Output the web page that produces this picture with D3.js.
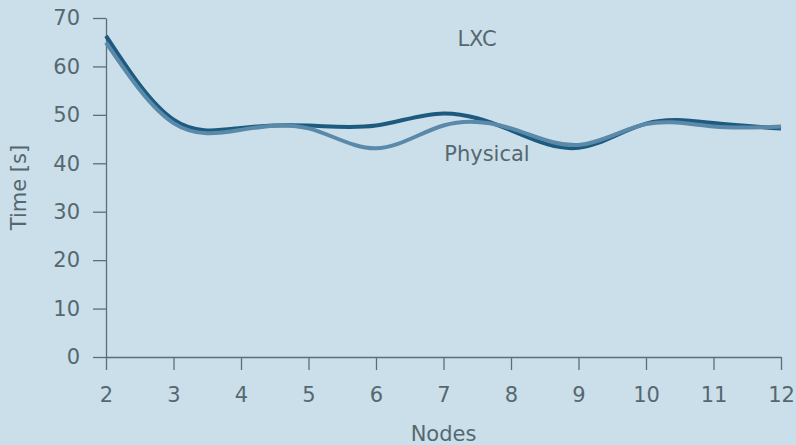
<!DOCTYPE html>
<html>
<head>
<meta charset="utf-8">
<script src="https://cdn.jsdelivr.net/npm/d3@7"></script>
<style>
  body { margin: 0; background: #cbdfea; }
  svg { display: block; font-family: "DejaVu Sans", sans-serif; }
  .axis path, .axis line { stroke: #5d6e75; stroke-width: 1.3; }
  .axis text { fill: #56686f; font-size: 21px; font-family: "DejaVu Sans", sans-serif; }
</style>
</head>
<body>
<svg id="chart" width="796" height="445"></svg>
<script>
const nodes = [2, 3, 4, 5, 6, 7, 8, 9, 10, 11, 12];
const lxcTime = [66.3, 49, 47.3, 47.8, 47.8, 50.3, 46.8, 43.2, 48.2, 48.3, 47.2];
const physicalTime = [64.9, 48.3, 46.9, 47.2, 43.1, 47.8, 47.2, 43.8, 48.1, 47.6, 47.6];
const yTicks = [0, 10, 20, 30, 40, 50, 60, 70];

const svg = d3.select("#chart");
const margin = { left: 106, right: 15, top: 18, bottom: 88 };
const W = 796, H = 445;

const x = d3.scaleLinear().domain([2, 12]).range([margin.left, W - margin.right]);
const y = d3.scaleLinear().domain([0, 70]).range([H - margin.bottom, margin.top]);

// axes
svg.append("g").attr("class", "axis")
  .attr("transform", `translate(0,${y(0)})`)
  .call(d3.axisBottom(x).tickValues(nodes).tickFormat(d3.format("d")).tickSize(13).tickSizeOuter(0).tickPadding(17));

svg.append("g").attr("class", "axis")
  .attr("transform", `translate(${x(2)},0)`)
  .call(d3.axisLeft(y).tickValues(yTicks).tickSize(13).tickSizeOuter(0).tickPadding(13));

// axis titles
svg.append("text")
  .attr("x", (x(2) + x(12)) / 2).attr("y", 441)
  .attr("text-anchor", "middle").attr("fill", "#56686f").attr("font-size", 21)
  .text("Nodes");

svg.append("text")
  .attr("transform", `translate(26,${(y(0) + y(70)) / 2}) rotate(-90)`)
  .attr("text-anchor", "middle").attr("fill", "#56686f").attr("font-size", 21)
  .text("Time [s]");

// lines
const line = d3.line().x((d, i) => x(nodes[i])).y(d => y(d)).curve(d3.curveNatural);

svg.append("path").datum(lxcTime)
  .attr("d", line).attr("fill", "none")
  .attr("stroke", "#1d5a7f").attr("stroke-width", 4);

svg.append("path").datum(physicalTime)
  .attr("d", line).attr("fill", "none")
  .attr("stroke", "#5a89a9").attr("stroke-width", 4);

// series labels
svg.append("text").attr("x", 477).attr("y", 46)
  .attr("text-anchor", "middle").attr("fill", "#56686f").attr("font-size", 21)
  .text("LXC");
svg.append("text").attr("x", 487).attr("y", 161)
  .attr("text-anchor", "middle").attr("fill", "#56686f").attr("font-size", 21)
  .text("Physical");
</script>
</body>
</html>
